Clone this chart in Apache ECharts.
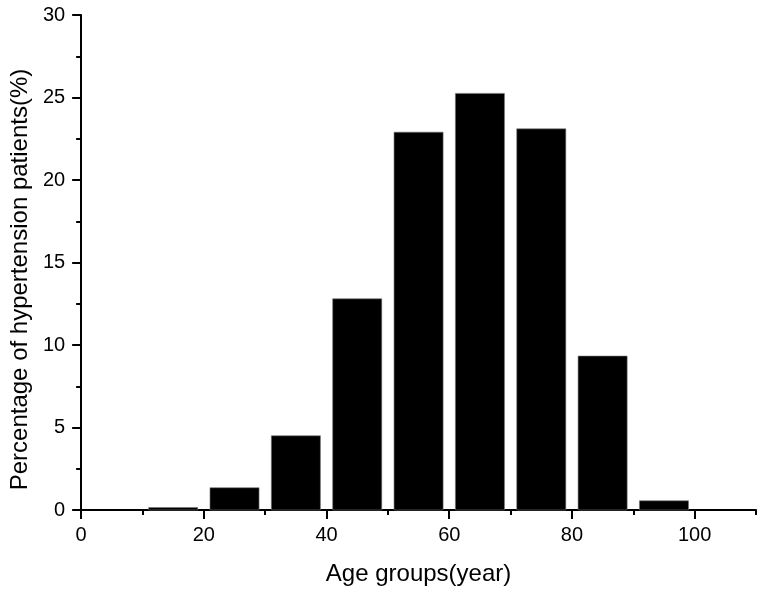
<!DOCTYPE html>
<html>
<head>
<meta charset="utf-8">
<script src="https://cdn.jsdelivr.net/npm/echarts@6/dist/echarts.min.js"></script>
<style>html,body{margin:0;padding:0;background:#fff}#c{width:760px;height:593px}</style>
</head>
<body>
<div id="c"></div>
<script>
// Age-group bin centres (years) and percentage of hypertension patients
var binCenters = [15, 25, 35, 45, 55, 65, 75, 85, 95];
var percentages = [0.15, 1.35, 4.5, 12.8, 22.9, 25.25, 23.1, 9.33, 0.56];
var xMajorTicks = [0, 20, 40, 60, 80, 100];
var xMinorTicks = [10, 30, 50, 70, 90, 110];
var xTitle = 'Age groups(year)';
var yTitle = 'Percentage of hypertension patients(%)';

var BAR_HALF = 4.0;
var font = '"Liberation Sans", Arial, sans-serif';
var chart = echarts.init(document.getElementById('c'));
var data = binCenters.map(function (x, i) { return [x, percentages[i]]; });

chart.setOption({
  animation: false,
  backgroundColor: '#fff',
  grid: { left: 81, right: 4, top: 15, bottom: 83, containLabel: false },
  xAxis: [{
    type: 'value', min: 0, max: 110, position: 'bottom',
    name: xTitle, nameLocation: 'middle', nameGap: 52,
    nameTextStyle: { fontSize: 24, color: '#000', fontFamily: font },
    axisLine: { show: true, onZero: false, lineStyle: { color: '#000', width: 2 } },
    axisTick: { show: true, customValues: xMajorTicks, length: 9, lineStyle: { color: '#000', width: 2 } },
    axisLabel: { customValues: xMajorTicks, margin: 15, fontSize: 20, color: '#000', fontFamily: font },
    splitLine: { show: false }
  }, {
    type: 'value', min: 0, max: 110, position: 'bottom', gridIndex: 0,
    axisLine: { show: false },
    axisTick: { show: true, customValues: xMinorTicks, length: 5, lineStyle: { color: '#000', width: 2 } },
    axisLabel: { show: false },
    splitLine: { show: false }
  }],
  yAxis: {
    type: 'value', min: 0, max: 30, interval: 5,
    name: yTitle, nameLocation: 'middle', nameGap: 46,
    nameTextStyle: { fontSize: 24, color: '#000', fontFamily: font, padding: [0, 34, 0, 0] },
    axisLine: { show: true, lineStyle: { color: '#000', width: 2 } },
    axisTick: { show: true, length: 9, lineStyle: { color: '#000', width: 2 } },
    minorTick: { show: true, splitNumber: 2, length: 5, lineStyle: { color: '#000', width: 2 } },
    axisLabel: { margin: 16, fontSize: 20, color: '#000', fontFamily: font },
    splitLine: { show: false }
  },
  series: [{
    type: 'custom',
    xAxisIndex: 0,
    data: data,
    renderItem: function (params, api) {
      var x = api.value(0), y = api.value(1);
      var p0 = api.coord([x - BAR_HALF, y]);
      var p1 = api.coord([x + BAR_HALF, 0]);
      return {
        type: 'rect',
        shape: { x: p0[0], y: p0[1], width: p1[0] - p0[0], height: p1[1] - p0[1] },
        style: { fill: '#000', stroke: '#777', lineWidth: 0.6 }
      };
    }
  }]
});
</script>
</body>
</html>
